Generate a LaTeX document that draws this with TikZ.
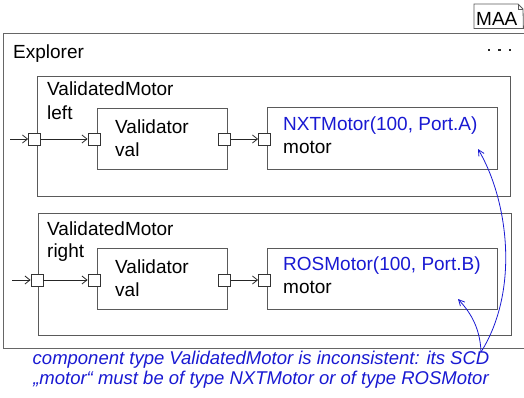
\documentclass[tikz,border=0pt]{standalone}
\usepackage{fontspec}
\setmainfont{Liberation Sans}
\usetikzlibrary{arrows.meta}
\definecolor{boxgray}{RGB}{90,90,90}
\definecolor{sigblue}{RGB}{25,25,210}
\begin{document}
\begin{tikzpicture}[x=1pt,y=-1pt,
  box/.style={draw=boxgray, line width=1pt, anchor=north west, inner sep=0pt},
  port/.style={draw=black!80, fill=white, line width=0.8pt, minimum size=12pt, inner sep=0pt},
  lbl/.style={anchor=base west, inner sep=0pt, font=\fontsize{19}{23}\selectfont},
  conn/.style={line width=0.8pt, black!85, -{Straight Barb[length=5pt,width=8pt]}},
  link/.style={line width=0.8pt, sigblue, -{Straight Barb[length=6pt,width=6pt]}},
  dot/.style={fill=black!85, minimum size=2.6pt, inner sep=0pt}]
\useasboundingbox (0,0) rectangle (524,397);

% MAA note symbol
\node[anchor=north west, minimum width=49pt, minimum height=24pt, inner sep=0pt] (maa) at (474,4) {};
\draw[boxgray, line width=0.8pt] (maa.north west) -- (518,4) -- (523,9) -- (maa.south east) -- (maa.south west) -- cycle;
\draw[boxgray, line width=0.6pt] (518,4) -- (518,9) -- (523,9);
\node[lbl] (maat) at (476,25) {MAA};

% Explorer
\node[box, draw=black!60, line width=1.3pt, minimum width=530pt, minimum height=315pt] (explorer) at (3,33) {};
\node[lbl] (explt) at (13,58) {Explorer};
\node[dot] (d1) at (489,50) {};
\node[dot] (d2) at (499.5,50) {};
\node[dot] (d3) at (510,50) {};

% first ValidatedMotor
\node[box, minimum width=473pt, minimum height=120pt] (vm1) at (37,76) {};
\node[lbl] (vm1t) at (47,95) {ValidatedMotor};
\node[lbl] (vm1n) at (47,119) {left};
\node[box, minimum width=130pt, minimum height=61pt] (val1) at (97,108) {};
\node[lbl] (val1t) at (115,133) {Validator};
\node[lbl] (val1n) at (115,156) {val};
\node[box, minimum width=230pt, minimum height=62pt] (nxt) at (267,107) {};
\node[lbl, text=sigblue] (nxtt) at (283,130) {NXTMotor(100, Port.A)};
\node[lbl] (nxtn) at (283,153) {motor};
\node[port] (p1) at (34.5,139) {};
\node[port] (p2) at (94,139) {};
\node[port] (p3) at (224.5,139) {};
\node[port] (p4) at (264.5,139) {};
\coordinate (in1) at (10,139);
\draw[conn] (in1) -- (p1.west);
\draw[conn] (p1.east) -- (p2.west);
\draw[conn] (p3.east) -- (p4.west);

% second ValidatedMotor
\node[box, minimum width=473pt, minimum height=122pt] (vm2) at (38,213) {};
\node[lbl] (vm2t) at (47,235) {ValidatedMotor};
\node[lbl] (vm2n) at (47,257) {right};
\node[box, minimum width=130pt, minimum height=61pt] (val2) at (97,248) {};
\node[lbl] (val2t) at (115,273) {Validator};
\node[lbl] (val2n) at (115,296) {val};
\node[box, minimum width=230pt, minimum height=61pt] (ros) at (267,248) {};
\node[lbl, text=sigblue] (rost) at (283,270) {ROSMotor(100, Port.B)};
\node[lbl] (rosn) at (283,293) {motor};
\node[port] (q1) at (37,280) {};
\node[port] (q2) at (94,280) {};
\node[port] (q3) at (224.5,280) {};
\node[port] (q4) at (264.5,280) {};
\coordinate (in2) at (12,280);
\draw[conn] (in2) -- (q1.west);
\draw[conn] (q1.east) -- (q2.west);
\draw[conn] (q3.east) -- (q4.west);

% note
\node[anchor=base, inner sep=0pt, text=sigblue, font=\fontsize{18.5}{19.5}\selectfont\itshape, align=center] (note) at (261,384) {component type ValidatedMotor is inconsistent: its SCD\\„motor“ must be of type NXTMotor or of type ROSMotor};
\coordinate (scd) at (481,352);
\coordinate (tipa) at (478,149);
\coordinate (tipb) at (458,299);
\draw[link] (scd) .. controls (520,290) and (508,200) .. (tipa);
\draw[link] (scd) .. controls (480,325) and (468,310) .. (tipb);
\end{tikzpicture}
\end{document}
